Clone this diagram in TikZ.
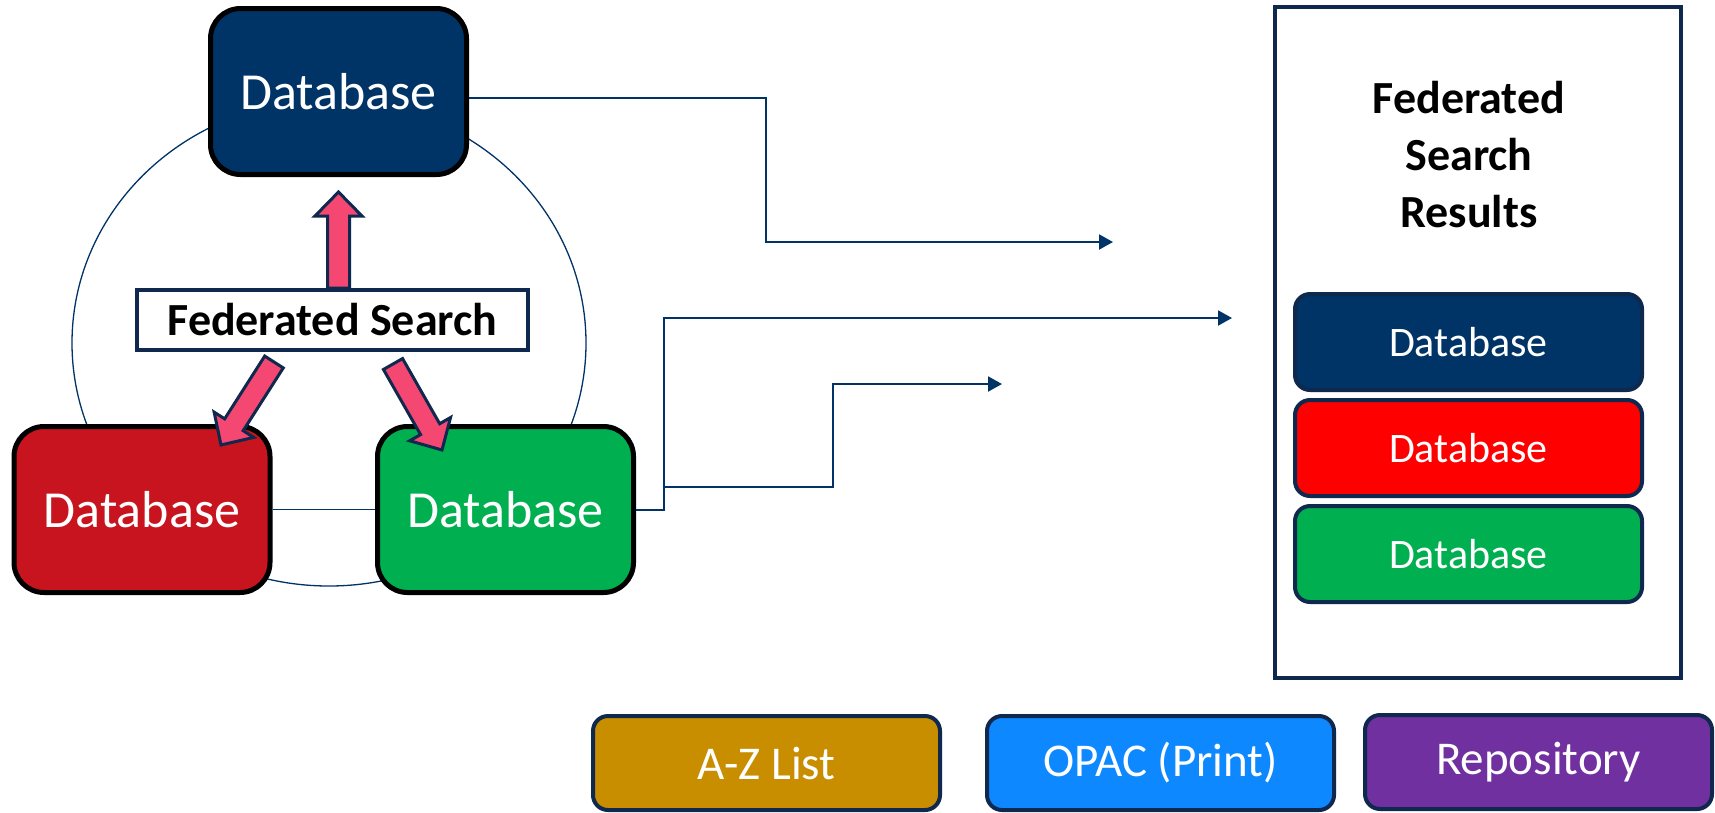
\documentclass[tikz,border=0pt]{standalone}
\usepackage{fontspec}
\setmainfont{Carlito}
\usetikzlibrary{positioning,calc,arrows.meta,backgrounds}

\definecolor{navy}{RGB}{0,51,102}
\definecolor{lnavy}{RGB}{14,40,78}
\definecolor{dbred}{RGB}{200,20,30}
\definecolor{dbgreen}{RGB}{0,176,80}
\definecolor{pinkarrow}{RGB}{244,72,115}
\definecolor{azgold}{RGB}{200,142,0}
\definecolor{opacblue}{RGB}{13,136,255}
\definecolor{repopurple}{RGB}{112,48,160}

\begin{document}
\begin{tikzpicture}[x=1pt, y=1pt,
    db/.style = {draw=black, line width=5pt, rounded corners=30pt, text=white,
      minimum width=256pt, minimum height=166pt, inner sep=0pt,
      font=\fontsize{52}{60}\selectfont},
    res/.style = {draw=lnavy, line width=4pt, rounded corners=15pt, text=white,
      minimum width=347pt, minimum height=96pt, inner sep=0pt,
      font=\fontsize{42}{50}\selectfont},
    tag/.style = {res, minimum height=94pt, font=\fontsize{47}{56}\selectfont},
    link/.style = {draw=navy, line width=2pt, -{Triangle[length=14pt,width=15pt]}},
    ring/.style = {draw=navy, line width=1.3pt},
    fat/.style = {draw=lnavy, line width=3pt, fill=pinkarrow, line join=miter,
      to path={let \p1=(\tikztostart), \p2=(\tikztotarget),
        \n1={atan2(\y2-\y1,\x2-\x1)}, \n2={veclen(\x2-\x1,\y2-\y1)-24pt} in
        ($(\p1)+(\n1+90:11pt)$) -- ($(\p1)+(\n1:\n2)+(\n1+90:11pt)$)
        -- ($(\p1)+(\n1:\n2)+(\n1+90:23.5pt)$) -- (\p2)
        -- ($(\p1)+(\n1:\n2)+(\n1-90:23.5pt)$) -- ($(\p1)+(\n1:\n2)+(\n1-90:11pt)$)
        -- ($(\p1)+(\n1-90:11pt)$) -- cycle}}]
    \useasboundingbox (0,0) rectangle (1715,-812);

    % the three databases round the search
    \node[db, fill=navy] (topdb) at (338.5,-91.5) {Database};
    \node[db, fill=dbred] (reddb) at (142,-509.5) {Database};
    \node[db, fill=dbgreen] (greendb) at (505.5,-509.5) {Database};
    \node[draw=lnavy, line width=4pt, fill=white, minimum width=391pt, minimum height=60pt,
      inner sep=0pt, font=\bfseries\fontsize{46}{55}\selectfont] (fs) at (332.5,-320) {Federated Search};

    % results column
    \node[draw=lnavy, line width=4pt, minimum width=406pt, minimum height=671pt] (resbox) at (1478,-342.5) {};
    \node[align=center, font=\bfseries\fontsize{46}{57}\selectfont] (restitle) at (1469,-155) {Federated\\Search\\Results};
    \node[res, fill=navy] (resnavy) at (1468.5,-342) {Database};
    \node[res, fill=red, below=6pt of resnavy] (resred) {Database};
    \node[res, fill=dbgreen, below=6pt of resred] (resgreen) {Database};

    % other sources
    \node[tag, fill=azgold] (az) at (766.5,-763) {A-Z List};
    \node[tag, fill=opacblue, right=43pt of az] (opac) {OPAC (Print)};
    \node[tag, fill=repopurple, right=27pt of opac, yshift=1pt] (repo) {Repository};

    \begin{scope}[on background layer]
        \fill[white] (0,0) rectangle (1715,-812);
        \draw[ring] (329,-343) ellipse [x radius=257, y radius=243];
        \draw[ring] (reddb) -- (greendb);
    \end{scope}

    \draw[fat] ($(fs.north)+(6,0)$) to ($(topdb.south)+(0,-15)$);
    \draw[fat] ($(fs.south)+(-58.5,-10)$) to ($(reddb.north)+(79,-21)$);
    \draw[fat] ($(fs.south)+(60.5,-12)$) to ($(greendb.north)+(-63.5,-26)$);

    \coordinate (in1) at (1113,-242);
    \coordinate (in2) at (1232,-318);
    \coordinate (in3) at (1002,-384);
    \coordinate (split) at (664,-487);
    \draw[link] ($(topdb.east)+(0,-6)$) -- ++(297,0) |- (in1);
    \draw[link] (greendb.east) -| (split) |- (in2);
    \draw[link] (split) -- ++(169,0) |- (in3);
\end{tikzpicture}
\end{document}
